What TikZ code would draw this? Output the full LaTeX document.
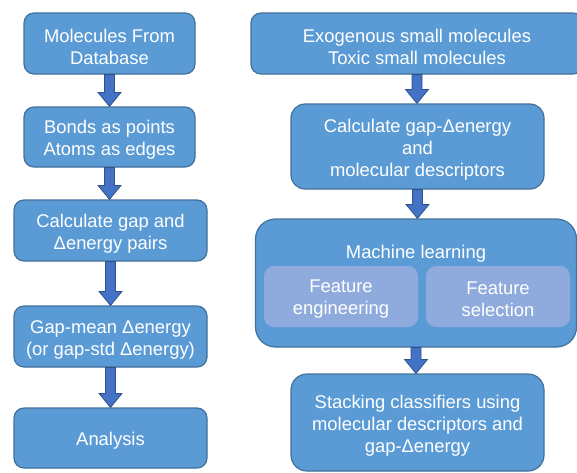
\documentclass[tikz,border=0pt]{standalone}
\usepackage{fontspec}
\setmainfont{Liberation Sans}
\usetikzlibrary{calc}
\definecolor{boxfill}{HTML}{5B9BD5}
\definecolor{boxline}{HTML}{41719C}
\definecolor{subfill}{HTML}{8FAADC}
\definecolor{arrowfill}{HTML}{4472C4}
\definecolor{arrowline}{HTML}{2F528F}
\tikzset{
  boxtext/.style={text=white, align=center, font=\fontsize{18.4}{22}\selectfont, inner sep=0pt},
  stepbox/.style={draw=boxline, line width=1.2pt, fill=boxfill, rounded corners=10pt, inner sep=0pt},
  subbox/.style={fill=subfill, rounded corners=10pt, inner sep=0pt},
  flowarrow/.style={draw=arrowline, line width=0.8pt, fill=arrowfill, line join=miter}
}
% caption set slightly below the centre of its box
\newcommand\boxcaption[2]{\node[boxtext] (#1text) at ([yshift=-3pt]#1.center) {#2};}
% block arrow from the bottom of one box to the top of the next
\newcommand\flowlink[2]{%
  \path[flowarrow] let \p1=(#1.south), \p2=(#2.north) in
    (\x1-5pt,\y1) -- (\x1-5pt,\y2+14pt) -- (\x1-11.5pt,\y2+14pt) -- (\x1,\y2)
    -- (\x1+11.5pt,\y2+14pt) -- (\x1+5pt,\y2+14pt) -- (\x1+5pt,\y1) -- cycle;}
\begin{document}
\begin{tikzpicture}[x=1pt,y=-1pt]
\useasboundingbox (0,0) rectangle (577,472);
\clip (0,0) rectangle (577,472);

% left pipeline
\node[stepbox, minimum width=171pt, minimum height=61pt] (L1) at (109.5,43.5) {};
\node[stepbox, minimum width=171pt, minimum height=60pt] (L2) at (109.5,137) {};
\node[stepbox, minimum width=193pt, minimum height=61pt] (L3) at (110.5,230.5) {};
\node[stepbox, minimum width=193pt, minimum height=61pt] (L4) at (110.5,336.5) {};
\node[stepbox, minimum width=193pt, minimum height=60pt] (L5) at (110.5,438) {};
\boxcaption{L1}{Molecules From\\Database}
\boxcaption{L2}{Bonds as points\\Atoms as edges}
\boxcaption{L3}{Calculate gap and\\Δenergy pairs}
\boxcaption{L4}{Gap-mean Δenergy\\(or gap-std Δenergy)}
\boxcaption{L5}{Analysis}

% right pipeline
\node[stepbox, minimum width=332pt, minimum height=61pt] (R1) at (417,43.5) {};
\node[stepbox, rounded corners=14pt, minimum width=253pt, minimum height=85pt] (R2) at (417.5,146.5) {};
\node[stepbox, rounded corners=20pt, minimum width=321pt, minimum height=128pt] (R3) at (416,283) {};
\coordinate (ML) at (416,251);
\node[subbox, minimum width=154pt, minimum height=61pt] (FE) at (341,296.5) {};
\node[subbox, minimum width=144pt, minimum height=61pt] (FS) at (498,296.5) {};
\node[stepbox, rounded corners=16pt, minimum width=253pt, minimum height=97pt] (R4) at (417.5,422.5) {};
\boxcaption{R1}{Exogenous small molecules\\Toxic small molecules}
\boxcaption{R2}{Calculate gap-Δenergy\\and\\molecular descriptors}
\boxcaption{ML}{Machine learning}
\boxcaption{FE}{Feature\\engineering}
\boxcaption{FS}{Feature\\selection}
\boxcaption{R4}{Stacking classifiers using\\molecular descriptors and\\gap-Δenergy}

% connectors
\flowlink{L1}{L2}
\flowlink{L2}{L3}
\flowlink{L3}{L4}
\flowlink{L4}{L5}
\flowlink{R1}{R2}
\flowlink{R2}{R3}
\flowlink{R3}{R4}
\end{tikzpicture}
\end{document}
